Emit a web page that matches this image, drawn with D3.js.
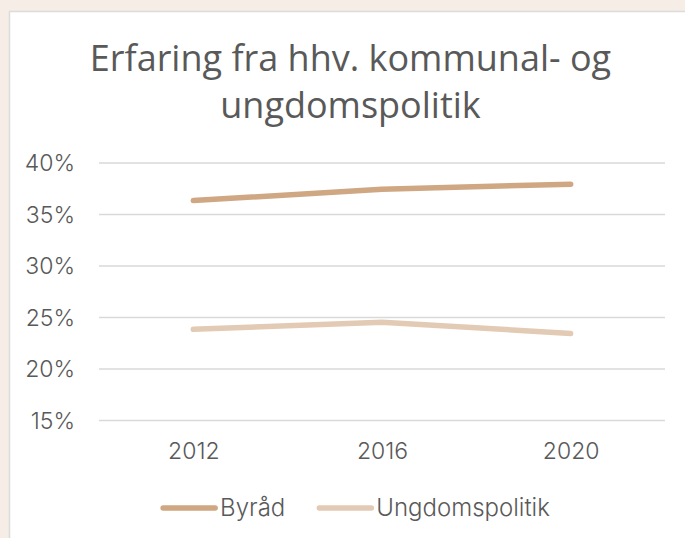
<!DOCTYPE html>
<html>
<head>
<meta charset="utf-8">
<script src="https://cdn.jsdelivr.net/npm/d3@7"></script>
<style>
  body { margin: 0; background: #f5ede6; }
  svg { display: block; }
</style>
</head>
<body>
<div id="chart"></div>
<script>
var years = ['2012', '2016', '2020'];
var byraad = [36.3, 37.4, 37.9];
var ungdom = [23.8, 24.5, 23.4];
var seriesNames = ['Byråd', 'Ungdomspolitik'];
var seriesColors = ['#cfa783', '#e3cab4'];
var yTicks = [15, 20, 25, 30, 35, 40];
var titleLines = ['Erfaring fra hhv. kommunal- og', 'ungdomspolitik'];

var width = 685;
var height = 538;
var centerX = 350.5;
var labelFont = 'Inter';

var svg = d3.select('#chart')
  .append('svg')
  .attr('width', width)
  .attr('height', height);

// white panel
svg.append('rect')
  .attr('x', 9.5)
  .attr('y', 11.5)
  .attr('width', 690)
  .attr('height', 540)
  .attr('fill', '#fff')
  .attr('stroke', '#dcdcdc')
  .attr('stroke-width', 1.5);

// title
svg.append('g').selectAll('text')
  .data(titleLines)
  .enter()
  .append('text')
  .attr('x', centerX)
  .attr('y', (d, i) => 71 + i * 47)
  .attr('text-anchor', 'middle')
  .attr('font-family', 'Open Sans')
  .attr('font-size', 36)
  .attr('fill', '#595959')
  .text(d => d);

var x = d3.scalePoint()
  .domain(years)
  .range([99, 665])
  .padding(0.5);

var y = d3.scaleLinear()
  .domain([15, 40])
  .range([420, 162.5]);

// grid
svg.append('g')
  .attr('transform', 'translate(99,0)')
  .call(d3.axisLeft(y).tickValues(yTicks).tickSize(-(665 - 99)).tickFormat(''))
  .call(g => g.select('.domain').remove())
  .call(g => g.selectAll('line').attr('stroke', '#d9d9d9').attr('stroke-width', 1.5));

// y labels
svg.append('g')
  .attr('transform', 'translate(75,0)')
  .call(d3.axisLeft(y).tickValues(yTicks).tickSize(0).tickFormat(d => d + '%'))
  .call(g => g.select('.domain').remove())
  .call(g => g.selectAll('text')
    .attr('font-family', labelFont)
    .attr('font-weight', 300)
    .attr('font-size', 23)
    .attr('fill', '#595959')
    .attr('dy', '0.35em')
    .attr('x', 0));

// x labels
svg.append('g')
  .attr('transform', 'translate(0,443)')
  .call(d3.axisBottom(x).tickSize(0))
  .call(g => g.select('.domain').remove())
  .call(g => g.selectAll('text')
    .attr('font-family', labelFont)
    .attr('font-weight', 300)
    .attr('font-size', 23)
    .attr('fill', '#595959')
    .attr('dy', '0.71em')
    .attr('y', 0));

// lines
var line = d3.line()
  .x((d, i) => x(years[i]))
  .y(d => y(d));

svg.append('g').selectAll('path')
  .data([byraad, ungdom])
  .enter()
  .append('path')
  .attr('d', line)
  .attr('fill', 'none')
  .attr('stroke', (d, i) => seriesColors[i])
  .attr('stroke-width', 5.5)
  .attr('stroke-linecap', 'round')
  .attr('stroke-linejoin', 'round');

// legend
var legend = svg.append('g');
var lx = 0;
seriesNames.forEach(function(name, i) {
  var item = legend.append('g').attr('transform', 'translate(' + lx + ',0)');
  item.append('line')
    .attr('x1', 3).attr('x2', 55)
    .attr('y1', 0).attr('y2', 0)
    .attr('stroke', seriesColors[i])
    .attr('stroke-width', 5.5)
    .attr('stroke-linecap', 'round');
  var t = item.append('text')
    .attr('x', 60)
    .attr('dy', '0.35em')
    .attr('font-family', labelFont)
    .attr('font-weight', 300)
    .attr('font-size', 24)
    .attr('fill', '#595959')
    .text(name);
  lx += 60 + t.node().getComputedTextLength() + 31;
});
var legendWidth = lx - 31;
legend.attr('transform', 'translate(' + (355 - legendWidth / 2) + ',508)');
</script>
</body>
</html>
